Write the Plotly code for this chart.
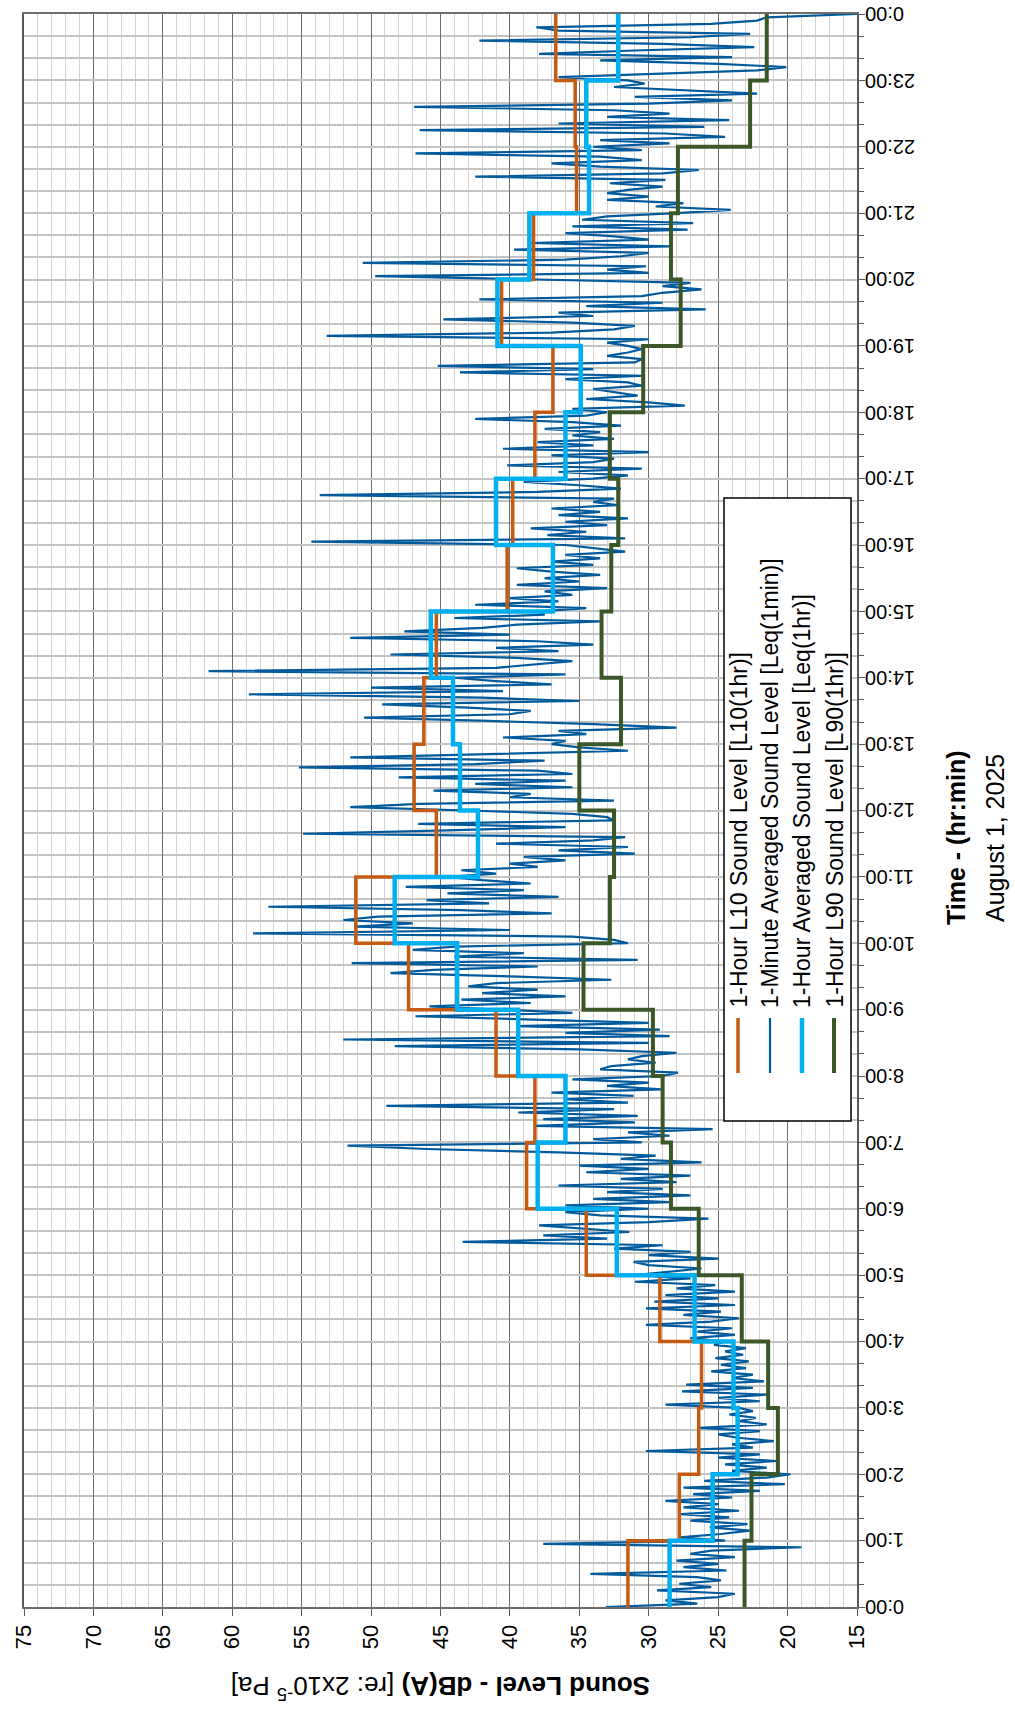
import plotly.graph_objects as go

# Hourly statistics (dB(A)), one value per hour 0:00 ... 23:00
l10_1hr = [31.5, 27.8, 26.4, 26.2, 29.2, 34.5, 38.8, 38.2, 41.0, 47.3, 51.1, 45.3,
           46.9, 46.2, 45.3, 40.2, 39.8, 38.2, 36.9, 40.6, 38.3, 35.2, 35.3, 36.7]
leq_1hr = [28.5, 25.4, 23.6, 23.9, 26.7, 32.3, 38.0, 36.0, 39.4, 43.8, 48.3, 42.3,
           43.6, 44.1, 45.7, 36.9, 41.0, 36.0, 34.9, 40.9, 38.6, 34.3, 34.5, 32.2]
l90_1hr = [23.1, 22.6, 20.7, 21.4, 23.3, 26.4, 28.4, 29.0, 29.7, 34.7, 32.8, 32.5,
           35.0, 32.0, 33.4, 32.7, 32.2, 32.8, 30.4, 27.7, 28.4, 27.9, 22.7, 21.5]

# 1-minute Leq readings, sampled every 3 minutes (20 per hour), plus 24:00
leq_1min = [
    33.1, 26.5, 28.8, 25.0, 23.8, 29.4, 25.5, 27.8, 24.8, 26.5, 34.2, 24.4, 27.5, 25.0, 28.0, 23.8, 27.0, 25.5, 19.0, 37.6,  # 0h
    24.5, 27.8, 24.8, 22.7, 25.6, 22.9, 27.0, 24.2, 27.7, 23.5, 27.5, 25.0, 28.8, 24.0, 26.8, 22.0, 27.5, 20.2, 26.0, 21.5,  # 1h
    19.8, 24.0, 21.5, 24.5, 20.8, 25.0, 22.0, 30.2, 22.5, 24.0, 21.0, 23.6, 25.0, 22.0, 26.4, 21.5, 23.5, 22.3, 24.2, 22.5,  # 2h
    23.5, 28.8, 22.0, 25.0, 21.5, 27.6, 22.5, 27.3, 21.7, 24.0, 22.5, 25.5, 23.0, 24.8, 22.8, 25.2, 23.2, 24.5, 23.0, 25.3,  # 3h
    24.5, 27.0, 23.8, 26.5, 24.0, 30.2, 25.5, 23.5, 27.5, 24.8, 30.2, 23.8, 29.6, 25.0, 28.8, 23.8, 28.0, 25.2, 31.0, 27.0,  # 4h
    31.0, 28.5, 26.2, 30.0, 31.1, 25.0, 30.0, 27.0, 32.5, 29.0, 43.4, 33.0, 37.6, 31.4, 35.0, 37.9, 30.0, 25.7, 33.5, 36.0,  # 5h
    30.0, 36.0, 28.5, 34.0, 27.0, 33.0, 29.0, 36.5, 28.0, 32.0, 27.0, 34.5, 30.0, 35.0, 26.2, 32.0, 29.5, 36.5, 46.0, 51.7,  # 6h
    30.5, 34.0, 28.5, 31.5, 25.4, 38.2, 31.0, 37.6, 30.8, 39.4, 32.5, 48.9, 31.5, 36.0, 31.1, 37.0, 29.1, 33.0, 30.0, 35.5,  # 7h
    29.0, 27.9, 33.5, 32.7, 29.5, 31.5, 30.5, 28.0, 35.0, 48.3, 30.0, 52.0, 28.5, 36.0, 29.2, 39.5, 30.0, 38.0, 46.8, 35.5,  # 8h
    41.0, 45.8, 38.5, 43.5, 36.0, 42.0, 38.0, 43.0, 41.0, 32.7, 40.0, 48.6, 45.5, 38.0, 51.4, 30.8, 44.0, 39.0, 47.0, 44.0,  # 9h
    31.5, 32.5, 35.5, 58.5, 40.0, 51.2, 47.0, 52.0, 49.5, 37.0, 43.5, 57.4, 41.5, 46.0, 36.5, 44.5, 39.0, 47.5, 38.5, 42.0,  # 10h
    44.5, 41.0, 43.5, 38.0, 40.0, 36.0, 39.0, 31.0, 36.5, 31.5, 41.0, 34.0, 31.7, 54.9, 44.5, 36.0, 46.6, 32.5, 33.0, 35.5,  # 11h
    43.0, 51.5, 46.5, 32.5, 40.0, 38.5, 45.5, 35.5, 42.5, 36.0, 48.0, 35.5, 38.0, 55.2, 42.5, 37.5, 51.5, 40.5, 31.5, 35.0,  # 12h
    37.0, 36.0, 40.5, 34.5, 36.5, 28.0, 34.0, 41.5, 50.5, 40.0, 38.5, 43.0, 49.2, 35.0, 42.0, 58.8, 40.5, 50.0, 37.0, 41.0,  # 13h
    44.0, 36.0, 61.7, 41.0, 38.0, 35.5, 39.5, 48.6, 36.5, 41.0, 34.0, 38.0, 51.5, 40.0, 47.6, 42.0, 39.5, 33.5, 44.0, 37.5,  # 14h
    38.0, 34.5, 42.5, 36.5, 40.0, 35.5, 37.5, 33.0, 39.5, 35.0, 37.5, 33.5, 37.0, 39.5, 34.0, 37.0, 33.5, 36.0, 31.7, 34.0,  # 15h
    36.0, 54.3, 31.7, 37.3, 34.5, 38.5, 33.0, 36.0, 31.5, 36.5, 33.5, 37.0, 32.3, 34.0, 32.5, 53.7, 38.0, 32.0, 35.0, 39.0,  # 16h
    34.0, 31.5, 36.5, 30.5, 40.2, 34.0, 32.5, 37.0, 30.0, 40.5, 34.0, 38.0, 32.5, 35.5, 33.5, 37.5, 32.0, 35.5, 42.5, 34.5,  # 17h
    33.0, 35.5, 27.4, 30.0, 34.5, 30.8, 32.5, 34.0, 30.5, 31.5, 36.0, 30.3, 43.6, 34.0, 45.2, 31.0, 30.5, 33.0, 31.5, 30.5,  # 18h
    31.5, 33.0, 30.0, 53.2, 37.0, 32.5, 31.0, 35.5, 44.8, 34.0, 36.5, 25.9, 34.5, 29.0, 42.2, 30.5, 29.0, 26.2, 29.0, 27.0,  # 19h
    38.0, 49.7, 30.0, 33.0, 30.2, 50.6, 36.0, 32.0, 30.0, 39.7, 28.5, 38.5, 30.0, 32.5, 36.0, 27.2, 35.5, 26.8, 34.8, 33.0,  # 20h
    28.0, 24.1, 29.5, 27.5, 33.0, 30.0, 33.0, 31.5, 29.0, 32.8, 28.8, 42.5, 29.0, 26.4, 33.5, 37.0, 30.5, 33.5, 46.8, 30.5,  # 21h
    34.0, 28.5, 33.5, 24.5, 28.8, 46.5, 26.0, 36.5, 24.2, 33.0, 28.5, 32.5, 46.9, 30.0, 24.0, 31.0, 22.2, 28.0, 32.5, 30.3,  # 22h
    31.5, 36.5, 30.0, 22.2, 20.1, 25.0, 33.5, 24.0, 37.9, 31.0, 22.4, 29.0, 42.2, 27.0, 22.7, 36.5, 38.1, 25.5, 22.2, 21.5,  # 23h
    15.0,
]
sample_step_min = 3

level_ticks = [75, 70, 65, 60, 55, 50, 45, 40, 35, 30, 25, 20, 15]
time_ticks = [h * 60 for h in range(25)]
time_labels = [f"{h % 24}:00" for h in range(25)]

legend_labels = [
    "1-Hour L10 Sound Level [L10(1hr)]",
    "1-Minute Averaged Sound Level [Leq(1min)]",
    "1-Hour Averaged Sound Level [Leq(1hr)]",
    "1-Hour L90 Sound Level [L90(1hr)]",
]

C_L10 = "#C55A11"
C_1MIN = "#005A9C"
C_LEQ = "#00B0F0"
C_L90 = "#3B5727"
FONT = "Liberation Sans, Arial, sans-serif"

hour_minutes = [h * 60 for h in range(25)]
minute_axis = [i * sample_step_min for i in range(len(leq_1min))]

fig = go.Figure()

# 1-minute Leq (drawn first so the hourly steps sit on top)
fig.add_trace(go.Scatter(x=leq_1min, y=minute_axis, mode="lines",
                         line=dict(color=C_1MIN, width=2.2), name=legend_labels[1]))

def hourly_step(values, color, width, name):
    return go.Scatter(x=values + [values[-1]], y=hour_minutes, mode="lines",
                      line=dict(color=color, width=width, shape="vh"), name=name)

fig.add_trace(hourly_step(l10_1hr, C_L10, 3.5, legend_labels[0]))
fig.add_trace(hourly_step(l90_1hr, C_L90, 4.0, legend_labels[3]))
fig.add_trace(hourly_step(leq_1hr, C_LEQ, 4.5, legend_labels[2]))

# plot-area geometry in pixels
W, H = 1015, 1728
ML, MR, MT, MB = 24, 158, 14, 121
PW = W - ML - MR
PH = H - MT - MB

def px_x(x):
    return (x - ML) / PW

def px_y(y):
    return (H - MB - y) / PH

fig.update_layout(
    width=W, height=H,
    margin=dict(l=ML, r=MR, t=MT, b=MB),
    paper_bgcolor="white", plot_bgcolor="white",
    showlegend=False,
    font=dict(family=FONT, color="black"),
    xaxis=dict(
        range=[75, 15], tickvals=level_ticks, ticktext=[str(v) for v in level_ticks],
        tickangle=-90, tickfont=dict(size=22, family=FONT, color="black"),
        showgrid=True, gridcolor="#6E6E6E", gridwidth=1.3,
        minor=dict(dtick=1, tick0=15, showgrid=True, gridcolor="#D4D4D4", gridwidth=1),
        ticks="outside", ticklen=7, tickcolor="#595959",
        showline=True, linecolor="#6E6E6E", linewidth=2, mirror=True,
        zeroline=False,
    ),
    yaxis=dict(
        range=[0, 1440], side="right", tickvals=time_ticks,
        showticklabels=False,
        showgrid=True, gridcolor="#C4C4C4", gridwidth=1.5,
        minor=dict(dtick=20, tick0=0, showgrid=True, gridcolor="#C4C4C4", gridwidth=1.5,
                   ticks="outside", ticklen=5, tickcolor="#595959"),
        ticks="outside", ticklen=6, tickcolor="#595959",
        showline=True, linecolor="#595959", linewidth=2, mirror=True,
        zeroline=False,
    ),
)

annotations = [
    dict(text="<b>Sound Level - dB(A)</b> [re: 2x10<sup>-5</sup> Pa]",
         x=0.5, y=px_y(1706), xref="paper", yref="paper", textangle=180,
         showarrow=False, font=dict(size=26, family=FONT, color="black")),
    dict(text="<b>Time - (hr:min)</b>", x=px_x(972), y=px_y(838),
         xref="paper", yref="paper", textangle=-90, showarrow=False,
         font=dict(size=25, family=FONT, color="black")),
    dict(text="August 1, 2025", x=px_x(1011), y=px_y(838),
         xref="paper", yref="paper", textangle=-90, showarrow=False,
         font=dict(size=25, family=FONT, color="black")),
]

# hour labels beside the time axis, turned upside down
for tv, tl in zip(time_ticks, time_labels):
    annotations.append(dict(text=tl, x=1, y=tv, xref="paper", yref="y",
                            xanchor="left", yanchor="middle", xshift=6,
                            textangle=180, showarrow=False,
                            font=dict(size=20, family=FONT, color="black")))

# legend box drawn with rotated text
shapes = [dict(type="rect", xref="paper", yref="paper",
               x0=px_x(724), x1=px_x(851), y0=px_y(1121), y1=px_y(498),
               line=dict(color="black", width=1.5), fillcolor="white", layer="above")]
legend_cols = [738, 770, 802, 834]
legend_styles = [(C_L10, 3.5), (C_1MIN, 2.2), (C_LEQ, 4.5), (C_L90, 4.0)]
for cx, (color, width), label in zip(legend_cols, legend_styles, legend_labels):
    shapes.append(dict(type="line", xref="paper", yref="paper",
                       x0=px_x(cx), x1=px_x(cx), y0=px_y(1073), y1=px_y(1018),
                       line=dict(color=color, width=width), layer="above"))
    annotations.append(dict(text=label, x=px_x(cx), y=px_y(1010),
                            xref="paper", yref="paper", textangle=-90,
                            xanchor="center", yanchor="bottom", showarrow=False,
                            font=dict(size=23, family=FONT, color="black")))

fig.update_layout(shapes=shapes, annotations=annotations)

fig.write_html("out.html")
